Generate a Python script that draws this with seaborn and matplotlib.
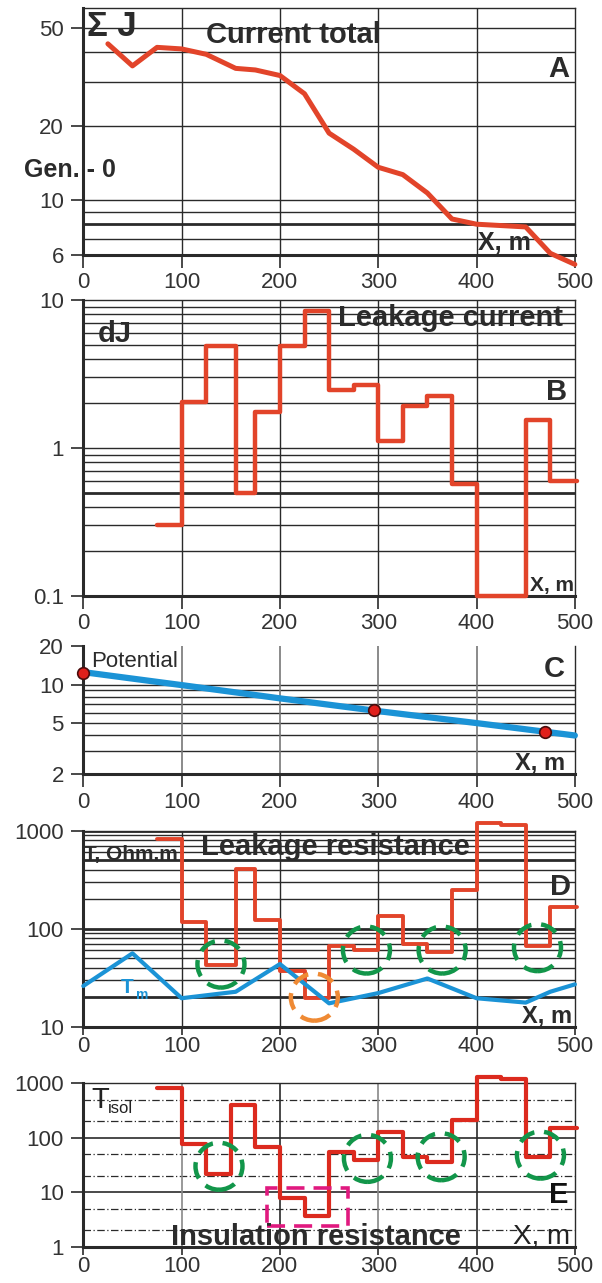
import matplotlib
matplotlib.use('Agg')
import matplotlib.pyplot as plt
import matplotlib.transforms as mtransforms
from matplotlib.patches import Ellipse, Rectangle
import seaborn as sns

# A - current total along the line
a_x = [25, 50, 75, 100, 125, 155, 175, 200, 225, 250, 275, 300, 325, 350, 375, 400, 450, 475, 500]
a_j = [43, 35, 41.6, 41, 39, 34.2, 33.7, 32, 27, 18.7, 16.1, 13.6, 12.7, 10.7, 8.4, 8.0, 7.8, 6.1, 5.5]

# B - leakage current per 25 m segment (step edges)
b_x = [75, 100, 125, 155, 175, 200, 225, 250, 275, 300, 325, 350, 375, 400, 450, 475, 502]
b_dj = [0.30, 2.03, 4.9, 0.5, 1.74, 4.9, 8.4, 2.45, 2.66, 1.11, 1.93, 2.24, 0.57, 0.1, 1.54, 0.60, 0.60]

# C - potential
c_x = [0, 100, 200, 300, 400, 500]
c_u = [12.5, 9.9, 7.8, 6.2, 5.0, 4.0]
c_pt_x = [0, 296, 470]
c_pt_u = [12.3, 6.35, 4.28]

# D - leakage resistance + soil resistivity Tm
d_x = [75, 100, 125, 155, 175, 200, 225, 250, 275, 300, 325, 350, 375, 400, 425, 450, 475, 502]
d_t = [816, 116, 42.5, 403, 122, 37, 19.5, 67, 61, 135, 70, 58, 248, 1207, 1142, 67, 167, 167]
d_mx = [0, 50, 100, 155, 200, 250, 300, 350, 400, 450, 475, 500]
d_tm = [26, 56, 19.5, 22.7, 43.5, 17.3, 22, 31, 19.5, 17.6, 22.7, 27]
d_ring_x = [140, 288, 365, 462]
d_ring_y = [43.5, 60.5, 60.5, 64]
d_warn_x = [235]
d_warn_y = [20]

# E - insulation resistance
e_x = [75, 100, 125, 150, 175, 200, 225, 250, 275, 300, 325, 350, 375, 400, 425, 450, 475, 502]
e_t = [830, 76, 22, 400, 69, 7.9, 3.7, 54, 39, 125, 45, 36, 211, 1290, 1200, 45, 153, 153]
e_ring_x = [138, 289, 364, 465]
e_ring_y = [30, 41.8, 44.8, 48]
e_box_x = [187, 269]
e_box_y = [2.43, 11.8]

RED = '#e2442a'
RED_E = '#dc2a1e'
BLUE = '#1b93d6'
GREEN = '#12964a'
ORANGE = '#ef8a34'
MAGENTA = '#e0197f'
INK = '#2a2a2a'

sns.set_style('white')
plt.rcParams['font.family'] = ['Liberation Sans', 'DejaVu Sans']

fig = plt.figure(figsize=(6.02, 12.83), dpi=100)
L, W = 0.1384, 0.8165
ax_a = fig.add_axes([L, 0.8012, W, 0.1925])
ax_b = fig.add_axes([L, 0.5355, W, 0.2307])
ax_c = fig.add_axes([L, 0.3967, W, 0.0998])
ax_d = fig.add_axes([L, 0.1998, W, 0.1528])
ax_e = fig.add_axes([L, 0.0283, W, 0.1274])


def base_style(ax, ylim, yticks, ylabels, minor_x=25, minor_y=None, xlen=9, xpad=5):
    ax.set_yscale('log')
    ax.set_xlim(0, 500)
    ax.set_ylim(*ylim)
    ax.set_xticks([0, 100, 200, 300, 400, 500])
    ax.set_xticks(list(range(0, 501, minor_x)), minor=True)
    ax.set_yticks(yticks)
    ax.set_yticklabels(ylabels)
    ax.set_yticks(minor_y or [], minor=True)
    ax.tick_params(axis='both', which='major', labelsize=16, labelcolor='#333333',
                   color=INK, width=1.2, length=9, direction='out', pad=5)
    ax.tick_params(axis='x', which='major', length=xlen, pad=xpad)
    ax.tick_params(axis='both', which='minor', color=INK, width=1.2, length=5.5,
                   direction='out', labelleft=False, labelbottom=False)
    ax.tick_params(axis='both', bottom=True, left=True)
    for s in ['left', 'bottom']:
        ax.spines[s].set_linewidth(2.2)
        ax.spines[s].set_color(INK)
    for s in ['top', 'right']:
        ax.spines[s].set_linewidth(1.0)
        ax.spines[s].set_color(INK)
    ax.set_xlabel('')
    ax.set_ylabel('')


def hlines(ax, vals, lw=1.0, ls='-', color=INK):
    for v in vals:
        ax.axhline(v, color=color, lw=lw, ls=ls, zorder=1)


def vlines(ax, vals, lw=1.0, color=INK):
    for v in vals:
        ax.axvline(v, color=color, lw=lw, zorder=1)


def ring(ax, x, y, color, w=0.47, h=0.47):
    trans = fig.dpi_scale_trans + mtransforms.ScaledTranslation(x, y, ax.transData)
    ax.add_patch(Ellipse((0, 0), w, h, transform=trans, fill=False, ec=color, lw=3.2,
                         ls=(0, (3.8, 2.2)), clip_on=False, zorder=5))


def label(ax, x, y, s, size=21, weight='bold', ha='left', color='#2b2b2b'):
    ax.text(x, y, s, transform=ax.transAxes, fontsize=size, fontweight=weight,
            ha=ha, va='baseline', color=color, zorder=6, clip_on=False)


# ---------- A ----------
hlines(ax_a, [7, 9, 10, 20, 30, 40, 50])
hlines(ax_a, [8], lw=2.0)
vlines(ax_a, [100, 200, 300, 400])
sns.lineplot(x=a_x, y=a_j, ax=ax_a, color=RED, linewidth=3.6, clip_on=False,
             estimator=None, sort=False, zorder=3)
base_style(ax_a, (6, 60), [6, 10, 20, 50], ['6', '10', '20', '50'],
           minor_y=[7, 8, 9, 30, 40], xpad=3)
label(ax_a, 0.008, 0.887, 'Σ J', size=25)
label(ax_a, 0.250, 0.857, 'Current total')
label(ax_a, 0.988, 0.720, 'A', ha='right')
label(ax_a, -0.121, 0.317, 'Gen. - 0', size=18)
label(ax_a, 0.802, 0.020, 'X, m', size=18)

# ---------- B ----------
hlines(ax_b, [0.2, 0.3, 0.4, 0.6, 0.7, 0.8, 0.9, 1, 2, 3, 4, 5, 6, 7, 8, 9])
hlines(ax_b, [0.5], lw=2.0)
vlines(ax_b, [100, 200, 300, 400])
sns.lineplot(x=b_x, y=b_dj, ax=ax_b, color=RED, linewidth=3.2, clip_on=False,
             estimator=None, sort=False, drawstyle='steps-post', zorder=3)
base_style(ax_b, (0.1, 10), [0.1, 1, 10], ['0.1', '1', '10'], minor_x=50, xpad=3)
label(ax_b, 0.030, 0.857, 'dJ')
label(ax_b, 0.518, 0.913, 'Leakage current')
label(ax_b, 0.985, 0.662, 'B', ha='right')
label(ax_b, 0.909, 0.017, 'X, m', size=15)

# ---------- C ----------
hlines(ax_c, [3, 4, 5, 6, 7, 8, 9, 10])
vlines(ax_c, [100, 200, 300, 400], lw=1.2, color='#777777')
sns.lineplot(x=c_x, y=c_u, ax=ax_c, color=BLUE, linewidth=4.5, clip_on=False,
             estimator=None, sort=False, zorder=3)
sns.scatterplot(x=c_pt_x, y=c_pt_u, ax=ax_c, s=70, color='#e01f1b', edgecolor='#4a0c0c',
                linewidth=1.2, zorder=4, clip_on=False)
base_style(ax_c, (2, 20), [2, 5, 10, 20], ['2', '5', '10', '20'], minor_y=[3, 4], xpad=4)
ax_c.spines['top'].set_visible(False)
label(ax_c, 0.016, 0.834, 'Potential', size=16, weight='normal')
label(ax_c, 0.979, 0.760, 'C', ha='right')
label(ax_c, 0.879, 0.037, 'X, m', size=17)

# ---------- D ----------
hlines(ax_d, [30, 40, 50, 60, 70, 80, 90, 200, 300, 400, 600, 700, 800, 900])
hlines(ax_d, [20, 100, 500, 1000], lw=2.0)
vlines(ax_d, [100, 200, 300, 400])
sns.lineplot(x=d_x, y=d_t, ax=ax_d, color=RED, linewidth=2.8, clip_on=False,
             estimator=None, sort=False, drawstyle='steps-post', zorder=3)
sns.lineplot(x=d_mx, y=d_tm, ax=ax_d, color=BLUE, linewidth=3.0, clip_on=False,
             estimator=None, sort=False, zorder=3)
for x, y in zip(d_ring_x, d_ring_y):
    ring(ax_d, x, y, GREEN)
for x, y in zip(d_warn_x, d_warn_y):
    ring(ax_d, x, y, ORANGE)
base_style(ax_d, (10, 1000), [10, 100, 1000], ['10', '100', '1000'], xlen=6, xpad=1)
label(ax_d, 0.002, 0.850, 'T, Ohm.m', size=15)
label(ax_d, 0.240, 0.876, 'Leakage resistance')
label(ax_d, 0.992, 0.672, 'D', ha='right')
label(ax_d, 0.076, 0.170, 'T', size=15, color=BLUE)
label(ax_d, 0.108, 0.140, 'm', size=10, color=BLUE)
label(ax_d, 0.893, 0.020, 'X, m', size=17)

# ---------- E ----------
hlines(ax_e, [10, 100], lw=1.2)
hlines(ax_e, [2, 5, 20, 50, 200, 500], lw=0.9, ls=(0, (6, 2, 1, 2)))
vlines(ax_e, [100, 300], lw=1.2, color='#888888')
vlines(ax_e, [200, 400], lw=1.2)
sns.lineplot(x=e_x, y=e_t, ax=ax_e, color=RED_E, linewidth=3.0, clip_on=False,
             estimator=None, sort=False, drawstyle='steps-post', zorder=3)
for x, y in zip(e_ring_x, e_ring_y):
    ring(ax_e, x, y, GREEN)
ax_e.add_patch(Rectangle((e_box_x[0], e_box_y[0]), e_box_x[1] - e_box_x[0],
                         e_box_y[1] - e_box_y[0], fill=False, ec=MAGENTA, lw=2.6,
                         ls=(0, (5, 2.5)), zorder=5, clip_on=False))
base_style(ax_e, (1, 1000), [1, 10, 100, 1000], ['1', '10', '100', '1000'],
           minor_y=[2, 3, 4, 5, 6, 7, 8, 9, 20, 30, 40, 50, 60, 70, 80, 90,
                    200, 300, 400, 500, 600, 700, 800, 900], xlen=6, xpad=1)
label(ax_e, 0.017, 0.847, 'T', size=21, weight='normal', color='#222222')
label(ax_e, 0.050, 0.816, 'isol', size=12, weight='normal', color='#222222')
label(ax_e, 0.988, 0.266, 'E', ha='right', color='#111111')
label(ax_e, 0.179, 0.010, 'Insulation resistance')
label(ax_e, 0.875, 0.020, 'X, m', size=20, weight='normal', color='#222222')

fig.savefig('out.png', dpi=100)
